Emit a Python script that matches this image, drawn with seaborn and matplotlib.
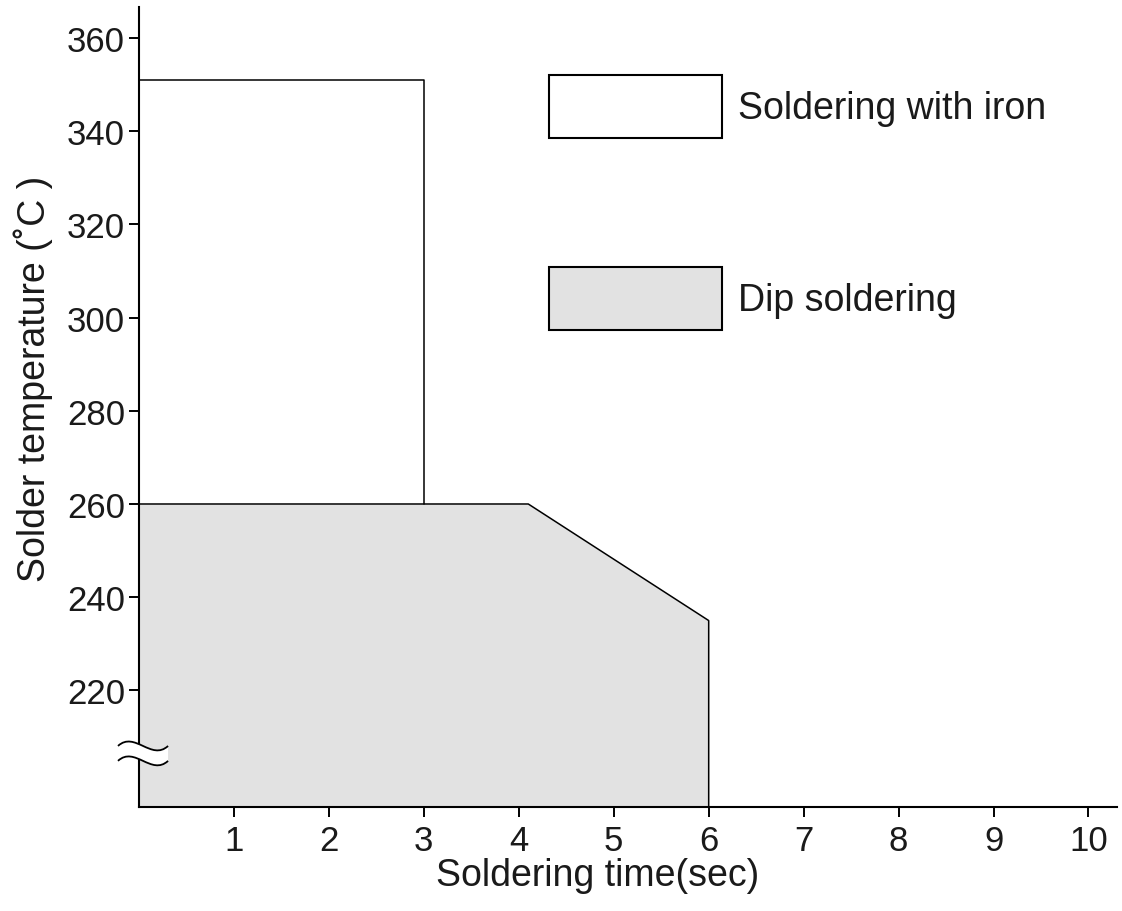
import matplotlib
matplotlib.use("Agg")
import matplotlib.pyplot as plt
import seaborn as sns
from matplotlib.patches import Patch, PathPatch
from matplotlib.path import Path

# profile data
iron_time = [0, 3, 3]
iron_temp = [351, 351, 260]
dip_time = [0, 4.1, 6]
dip_temp = [260, 260, 235]

x_ticks = [1, 2, 3, 4, 5, 6, 7, 8, 9, 10]
y_ticks = [220, 240, 260, 280, 300, 320, 340, 360]
legend_labels = ["Soldering with iron", "Dip soldering"]

Y_MIN, Y_MAX = 195, 366.6
X_MIN, X_MAX = 0, 10.3
GRAY = "#e2e2e2"
TXT = "#1a1a1a"

sns.set_theme(style="ticks")
plt.rcParams["font.family"] = ["Liberation Sans", "DejaVu Sans"]

fig = plt.figure(figsize=(11.22, 9.12), dpi=100)
ax = fig.add_axes([0.1239, 0.114, 0.8716, 0.8772])

# dip soldering area
ax.fill_between(dip_time, dip_temp, Y_MIN, color=GRAY, lw=0, zorder=1)
sns.lineplot(x=dip_time + [dip_time[-1]], y=dip_temp + [Y_MIN], sort=False,
             estimator=None, color="black", lw=1.1, ax=ax, zorder=2)
# soldering iron area
sns.lineplot(x=iron_time, y=iron_temp, sort=False, estimator=None,
             color="black", lw=1.1, ax=ax, zorder=2)

ax.set_xlim(X_MIN, X_MAX)
ax.set_ylim(Y_MIN, Y_MAX)
ax.set_xticks(x_ticks)
ax.set_yticks(y_ticks)
sns.despine(ax=ax)
for s in ["left", "bottom"]:
    ax.spines[s].set_linewidth(1.5)
    ax.spines[s].set_color("black")
ax.tick_params(axis="both", direction="out", length=7, width=1.4,
               color="black", labelsize=25, labelcolor=TXT)
ax.tick_params(axis="y", pad=3)
ax.tick_params(axis="x", pad=5)

ax.set_xlabel("Soldering time(sec)", fontsize=27, color=TXT)
ax.set_ylabel("Solder temperature (\u02daC )", fontsize=27, color=TXT)
ax.xaxis.set_label_coords(0.469, -0.062)
ax.yaxis.set_label_coords(-0.088, 0.537)

# legend boxes
handles = [Patch(facecolor="white", edgecolor="black", lw=1.5),
           Patch(facecolor=GRAY, edgecolor="black", lw=1.5)]
ax.legend(handles, legend_labels, loc="upper left", bbox_to_anchor=(0.419, 0.915),
          frameon=False, fontsize=27, handlelength=4.61, handleheight=2.2,
          labelspacing=3.45, handletextpad=0.43, borderpad=0, borderaxespad=0,
          labelcolor=TXT)

# axis break on the y axis
tr = ax.get_yaxis_transform()
x0, x1 = -0.0215, 0.0297
w = x1 - x0
top_c, bot_c, h = 208.1, 204.9, 3.3


def wave(yc, reverse=False):
    pts = [(x0, yc), (x0 + w / 3, yc + h), (x0 + 2 * w / 3, yc - h), (x1, yc)]
    return pts[::-1] if reverse else pts


top = wave(top_c)
bot = wave(bot_c, reverse=True)
verts = top + [bot[0]] + bot[1:] + [top[0]]
codes = ([Path.MOVETO] + [Path.CURVE4] * 3 + [Path.LINETO] + [Path.CURVE4] * 3
         + [Path.CLOSEPOLY])
ax.add_patch(PathPatch(Path(verts, codes), facecolor="white", edgecolor="none",
                       transform=tr, clip_on=False, zorder=5))
for yc in (top_c, bot_c):
    p = Path(wave(yc), [Path.MOVETO] + [Path.CURVE4] * 3)
    ax.add_patch(PathPatch(p, facecolor="none", edgecolor="black", lw=1.3,
                           transform=tr, clip_on=False, zorder=6))

fig.savefig("out.png", dpi=100)
plt.close(fig)
